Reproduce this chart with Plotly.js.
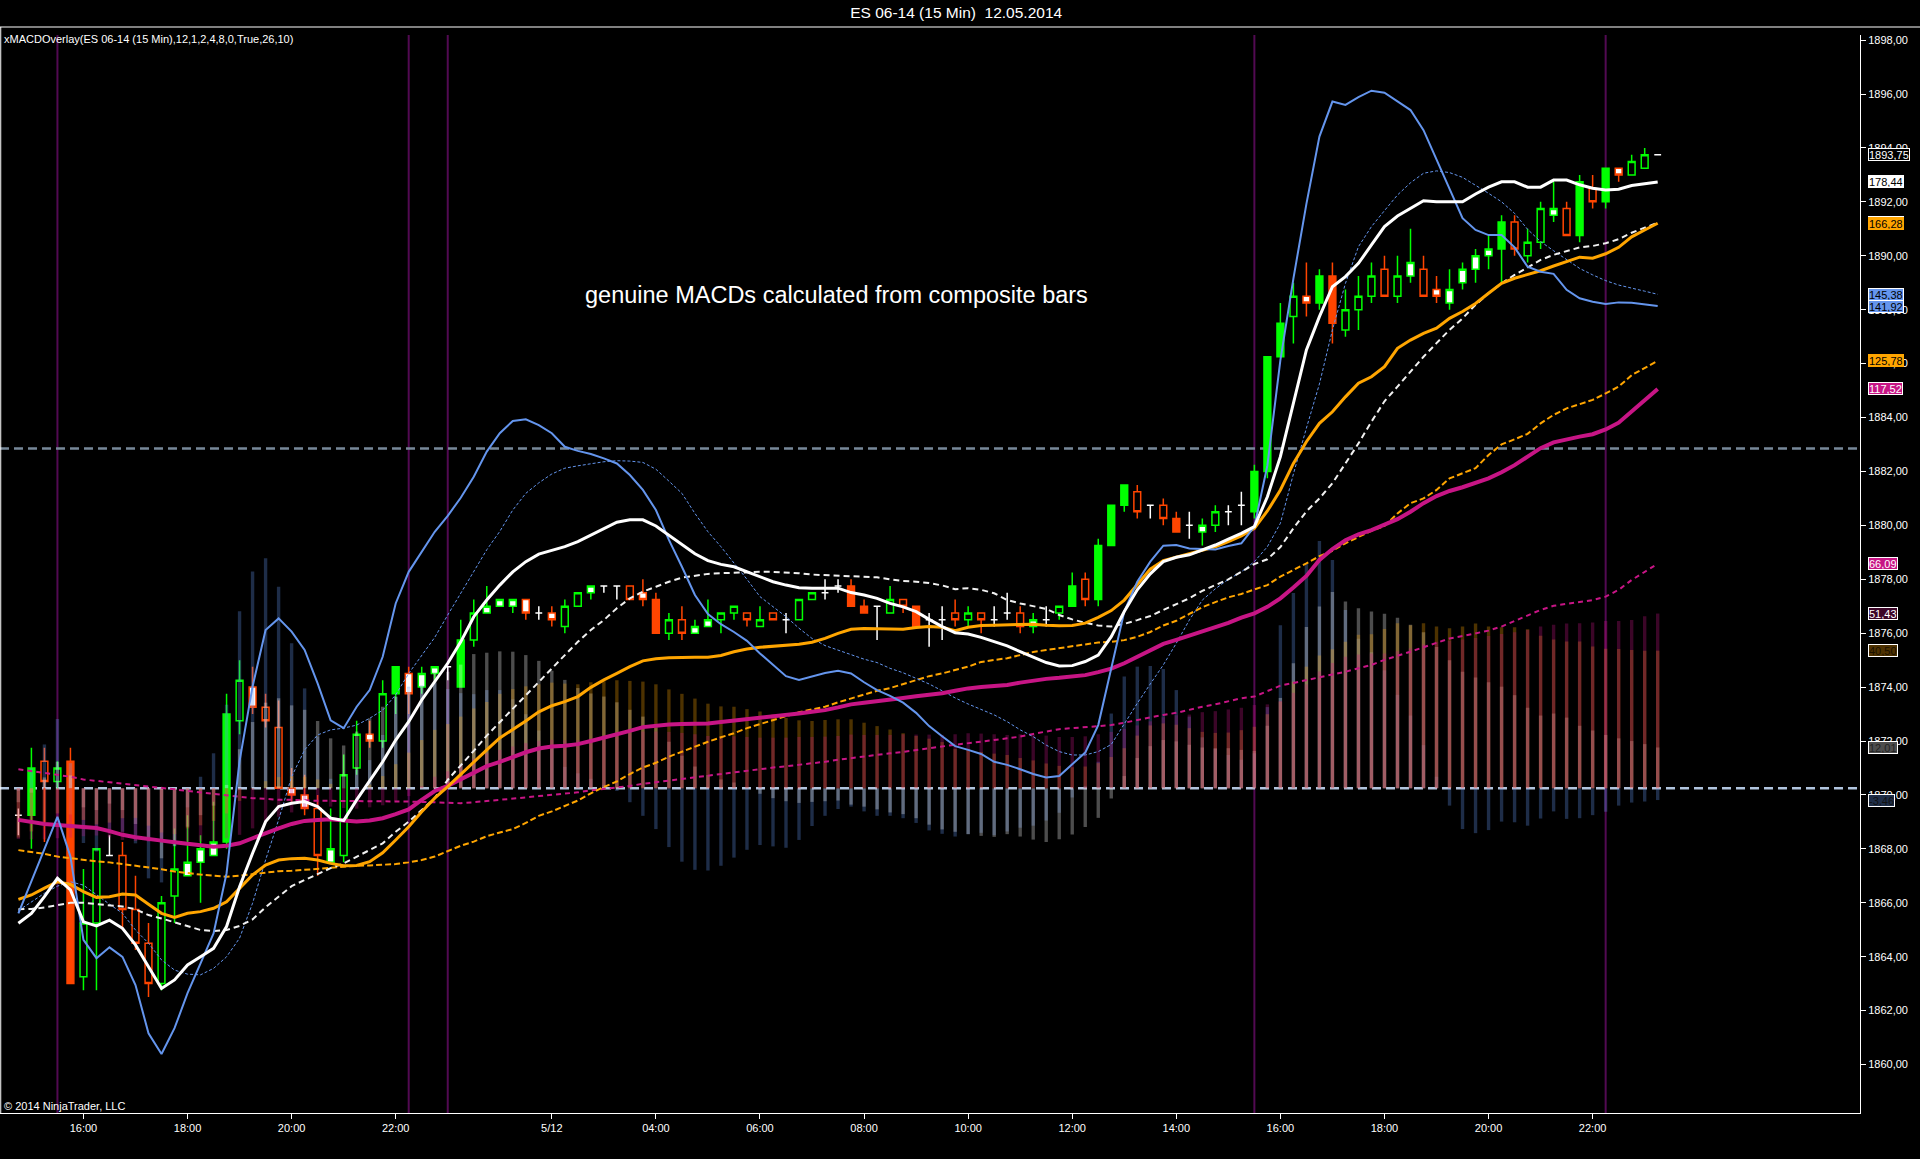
<!DOCTYPE html>
<html><head><meta charset="utf-8">
<script src="https://cdn.plot.ly/plotly-3.0.1.min.js"></script>
<style>html,body{margin:0;padding:0;background:#000;overflow:hidden}</style>
</head><body><div id="chart" style="width:1920px;height:1159px"></div>
<script>
// ---- time axis (bar index positions and labels) ----
const timeTickVals = [5, 13, 21, 29, 41, 49, 57, 65, 73, 81, 89, 97, 105, 113, 121];
const timeTickText = ['16:00','18:00','20:00','22:00','5/12','04:00','06:00','08:00','10:00','12:00','14:00','16:00','18:00','20:00','22:00'];
const priceTickVals = [1860,1862,1864,1866,1868,1870,1872,1874,1876,1878,1880,1882,1884,1886,1888,1890,1892,1894,1896,1898];
const priceTickText = ['1860,00','1862,00','1864,00','1866,00','1868,00','1870,00','1872,00','1874,00','1876,00','1878,00','1880,00','1882,00','1884,00','1886,00','1888,00','1890,00','1892,00','1894,00','1896,00','1898,00'];
const sessionMarks = [3, 30, 33, 95, 122];
const macdLevels = [0, 100];

// ---- price bars (ES 06-14, 15 min) ----
const openP = [
1869.25,1869.25,1871.25,1870.5,1871.25,1863.25,1865.25,1867.75,1867.75,1865.75,
1864.5,1863.0,1866.25,1867.0,1867.5,1867.75,1868.25,1872.75,1874.0,1873.25,
1872.5,1870.25,1870.0,1869.5,1867.5,1867.75,1871.0,1872.25,1872.0,1873.75,
1874.5,1874.0,1874.5,1874.75,1874.0,1875.75,1876.75,1877.0,1877.0,1877.25,
1876.75,1876.75,1876.25,1877.0,1877.5,1877.75,1877.75,1877.75,1877.5,1877.25,
1876.0,1876.5,1876.0,1876.25,1876.5,1876.75,1876.75,1876.25,1876.75,1876.5,
1876.5,1877.25,1877.5,1877.75,1877.75,1877.0,1877.0,1876.75,1877.25,1877.0,
1876.5,1876.5,1876.75,1876.5,1876.75,1876.5,1876.75,1876.75,1876.25,1876.5,
1876.75,1877.0,1878.0,1877.25,1879.25,1880.75,1881.25,1880.75,1880.75,1880.25,
1880.0,1879.75,1880.0,1880.5,1880.75,1880.5,1882.0,1886.25,1887.75,1888.5,
1888.25,1889.25,1887.25,1888.0,1888.5,1889.5,1888.5,1889.25,1889.5,1888.75,
1888.25,1889.0,1889.5,1890.0,1890.25,1891.25,1890.0,1890.5,1891.5,1891.75,
1890.75,1892.5,1892.0,1893.25,1893.0,1893.25,1893.75];
const highP = [
1869.5,1871.75,1871.75,1871.25,1871.75,1867.25,1868.0,1868.5,1868.25,1867.0,
1865.25,1866.25,1868.75,1869.25,1868.5,1869.75,1873.75,1875.0,1874.75,1873.75,
1873.5,1871.0,1870.75,1870.0,1869.5,1871.5,1872.75,1872.75,1874.25,1874.75,
1874.75,1874.75,1874.75,1874.75,1876.5,1877.25,1877.75,1877.25,1877.25,1877.25,
1877.0,1877.0,1877.25,1877.5,1877.75,1877.75,1877.75,1877.75,1878.0,1877.5,
1876.75,1877.0,1876.5,1877.25,1876.75,1877.0,1876.75,1877.0,1876.75,1876.75,
1877.25,1877.5,1878.0,1878.0,1878.0,1877.25,1877.0,1877.75,1877.25,1877.0,
1876.75,1877.0,1877.25,1877.0,1876.75,1877.0,1877.5,1877.0,1876.75,1877.0,
1877.0,1878.25,1878.25,1879.5,1880.75,1881.5,1881.5,1880.75,1881.0,1880.5,
1880.5,1880.25,1880.75,1880.75,1881.25,1882.25,1886.25,1888.25,1889.0,1889.75,
1889.5,1889.75,1888.75,1889.25,1889.75,1890.0,1890.0,1891.0,1890.0,1889.25,
1889.5,1889.75,1890.25,1890.75,1891.5,1891.5,1891.0,1892.0,1892.75,1892.0,
1893.0,1893.0,1893.25,1893.25,1893.75,1894.0,1893.75];
const lowP = [
1868.5,1868.0,1868.25,1870.25,1863.0,1862.75,1862.75,1867.75,1865.0,1864.25,
1862.5,1862.75,1865.25,1867.0,1866.0,1867.75,1868.0,1872.25,1873.0,1872.5,
1870.25,1869.75,1869.25,1867.0,1867.5,1867.5,1870.75,1871.75,1871.75,1873.0,
1873.0,1873.75,1874.25,1874.25,1874.0,1875.5,1876.75,1877.0,1876.75,1876.5,
1876.5,1876.25,1876.0,1877.0,1877.25,1877.5,1877.25,1877.25,1877.0,1876.0,
1875.75,1875.75,1876.0,1876.25,1876.0,1876.5,1876.25,1876.25,1876.5,1876.0,
1876.5,1877.25,1877.25,1877.5,1877.0,1876.75,1875.75,1876.75,1876.75,1876.25,
1875.5,1875.75,1876.25,1876.25,1876.0,1876.25,1876.5,1876.0,1876.0,1876.25,
1876.5,1877.0,1877.0,1877.0,1879.25,1880.5,1880.25,1880.25,1880.0,1879.75,
1879.5,1879.25,1879.75,1880.0,1880.0,1880.25,1881.75,1886.25,1886.75,1887.75,
1888.0,1886.75,1887.0,1887.25,1888.25,1888.5,1888.25,1889.0,1888.5,1888.25,
1888.0,1888.75,1889.0,1889.5,1889.0,1890.0,1889.75,1890.25,1891.25,1890.75,
1890.5,1891.75,1891.75,1892.75,1893.0,1893.25,1893.75];
const closeP = [
1869.25,1871.0,1870.5,1871.0,1863.0,1865.25,1868.0,1867.75,1865.75,1864.5,
1863.0,1866.0,1867.25,1867.5,1868.0,1868.25,1873.0,1874.25,1873.25,1872.75,
1870.25,1870.0,1869.5,1867.75,1868.0,1870.75,1872.25,1872.0,1873.75,1874.75,
1873.75,1874.5,1874.75,1874.75,1875.75,1876.75,1877.0,1877.25,1877.25,1876.75,
1876.75,1876.5,1877.0,1877.5,1877.75,1877.75,1877.75,1877.25,1877.25,1876.0,
1876.5,1876.0,1876.25,1876.5,1876.75,1877.0,1876.5,1876.5,1876.5,1876.5,
1877.25,1877.5,1877.5,1877.75,1877.0,1876.75,1877.0,1877.25,1877.0,1876.25,
1876.5,1876.5,1876.5,1876.75,1876.5,1876.5,1876.75,1876.25,1876.5,1876.5,
1877.0,1877.75,1877.25,1879.25,1880.75,1881.5,1880.5,1880.75,1880.25,1879.75,
1880.0,1880.0,1880.5,1880.5,1880.75,1882.0,1886.25,1887.5,1888.5,1888.25,
1889.25,1887.5,1888.0,1888.5,1889.25,1888.5,1889.25,1889.75,1888.5,1888.5,
1888.75,1889.5,1890.0,1890.25,1891.25,1890.25,1890.5,1891.75,1891.75,1890.75,
1892.75,1892.0,1893.25,1893.0,1893.5,1893.75,1893.75];
// bar painting type: G up solid, g up hollow, W up white, R down solid, r down hollow, w down white, d doji
const barType = [
'd','G','r','g','R','g','g','d','r','r',
'r','g','g','W','W','W','G','g','w','r',
'r','w','w','r','W','g','g','w','g','G',
'w','W','W','d','G','g','W','W','W','w',
'd','w','g','g','W','d','d','r','w','R',
'g','r','W','W','g','g','r','g','r','d',
'g','g','d','d','R','R','d','g','r','R',
'd','d','r','g','r','d','d','r','W','d',
'g','G','r','G','G','G','r','d','r','R',
'd','W','g','d','d','G','G','G','g','w',
'G','R','g','g','g','r','g','W','r','w',
'W','W','W','W','G','r','g','g','W','r',
'G','r','G','w','g','g','d'];

// ---- MACD overlay series (MACD units) ----
const macd1 = [ // white
-39.7,-36.8,-31.9,-26.5,-29.9,-39.3,-40.5,-38.8,-41.2,-46.1,
-52.5,-58.9,-56.4,-52.0,-49.6,-47.1,-40.7,-29.0,-19.1,-9.8,
-5.4,-4.4,-3.9,-5.4,-8.8,-9.5,-3.4,2.4,7.8,14.2,
19.6,26.0,31.4,36.8,43.1,50.5,55.4,59.8,63.7,66.7,
68.9,69.9,71.1,72.6,74.5,76.5,78.3,79.0,79.0,77.2,
74.5,71.6,69.0,67.0,65.9,65.2,63.7,62.1,60.8,59.8,
59.0,58.9,58.9,58.9,57.6,56.9,55.9,54.4,53.4,52.0,
49.7,47.6,45.8,45.4,44.4,43.1,41.9,40.2,38.6,37.0,
36.0,36.1,37.3,39.2,44.6,52.0,58.4,63.1,66.7,68.0,
68.7,70.1,71.6,73.3,75.0,77.0,85.8,97.6,113.3,129.0,
138.8,147.6,150.6,154.5,159.9,165.3,168.4,170.7,172.9,172.6,
172.6,172.6,174.9,176.9,178.5,178.5,176.9,176.9,179.0,179.0,
177.6,176.6,176.1,176.3,177.4,178.0,178.44];
const signal1 = [
-35.6,-35.5,-35.1,-34.3,-33.7,-33.7,-34.1,-34.3,-34.8,-35.6,
-37.3,-38.3,-39.5,-40.7,-41.7,-42.0,-41.7,-40.5,-38.6,-35.0,
-31.9,-28.8,-27.0,-25.2,-23.5,-22.1,-20.1,-18.2,-16.2,-12.8,
-9.8,-6.4,-2.9,2.5,6.7,11.0,15.5,19.5,23.5,27.5,
31.4,35.3,39.2,43.1,46.6,49.5,53.0,55.9,57.9,59.3,
60.8,62.0,62.6,63.1,63.3,63.5,63.6,63.7,63.7,63.6,
63.3,62.9,62.7,62.5,62.4,62.3,62.1,61.5,61.0,60.8,
60.4,59.7,58.6,58.9,58.4,57.4,55.4,54.4,53.7,52.8,
51.0,49.7,48.7,47.9,47.6,48.4,49.5,50.7,52.5,54.2,
55.9,58.1,59.8,61.5,63.7,66.0,67.4,71.0,76.5,81.5,
85.3,89.8,95.6,101.5,107.9,113.9,118.2,122.6,127.0,131.0,
134.9,138.3,142.3,145.7,148.6,151.1,153.2,155.5,157.0,158.2,
159.2,159.6,160.4,161.6,163.5,165.0,166.43];
const macd2 = [ // blue
-36.8,-27.5,-18.0,-8.4,-20.1,-44.6,-50.0,-46.8,-49.6,-57.9,
-72.1,-78.2,-70.6,-60.3,-51.5,-42.7,-25.0,8.0,30.0,46.6,
50.0,46.1,40.7,30.9,20.0,17.7,24.0,28.9,38.7,54.4,
63.7,69.6,75.5,80.2,85.5,91.7,99.1,104.5,108.1,108.6,
106.9,104.5,100.5,99.3,98.4,97.1,95.6,92.2,87.8,81.9,
73.1,65.2,56.9,51.3,48.3,46.0,43.4,39.7,36.3,33.0,
31.9,33.0,33.9,34.6,33.8,31.2,28.9,27.2,25.2,22.2,
18.3,15.3,12.4,11.3,10.1,7.8,6.9,5.6,4.2,3.2,
3.6,7.1,10.5,18.6,34.9,52.0,60.8,66.7,71.4,71.6,
70.6,70.4,70.3,71.3,72.1,77.0,95.0,126.0,150.0,172.0,
191.8,202.1,201.1,203.4,205.3,204.7,202.1,199.6,193.7,185.1,
176.1,167.8,164.3,162.8,162.8,159.2,153.5,152.0,151.4,146.7,
144.2,143.2,142.5,143.0,142.9,142.4,141.92];
const signal2 = [
-36.0,-33.4,-30.9,-28.8,-27.5,-28.5,-31.4,-34.1,-36.8,-41.7,
-45.6,-50.5,-53.5,-54.7,-54.9,-53.0,-49.6,-44.1,-33.8,-21.1,
-9.3,3.4,11.3,15.7,17.2,17.7,18.6,20.6,23.0,27.5,
33.8,39.2,44.4,51.0,57.5,64.0,70.2,75.6,81.9,86.8,
89.9,92.5,94.2,94.9,95.6,96.1,96.4,96.3,95.9,93.9,
90.4,86.8,80.9,75.5,71.1,66.4,61.5,56.4,53.4,50.5,
47.1,44.1,42.0,40.7,39.2,38.0,37.0,35.3,34.0,32.4,
30.7,28.7,26.6,24.8,23.2,21.6,19.6,17.2,15.2,12.7,
10.8,9.8,9.8,10.8,12.9,19.1,25.0,30.7,36.3,42.7,
49.5,55.4,58.7,61.5,63.7,66.7,71.1,78.0,92.5,106.0,
119.0,134.9,148.6,159.4,165.3,170.0,174.6,178.2,181.0,181.7,
181.2,179.8,177.5,175.1,172.6,169.2,164.5,160.9,158.2,155.7,
153.0,151.1,149.4,148.1,147.1,146.3,145.38];
const macd3 = [ // orange
-32.7,-31.4,-29.4,-27.5,-28.3,-30.4,-32.1,-31.9,-31.1,-31.4,
-34.1,-36.8,-38.0,-36.8,-36.3,-35.3,-33.4,-29.4,-25.5,-22.6,
-21.1,-20.7,-20.6,-21.1,-22.1,-22.8,-22.7,-21.6,-19.0,-15.2,
-11.3,-6.9,-2.9,0.5,4.2,7.8,11.3,14.8,17.2,19.8,
22.5,24.3,25.5,27.0,29.7,31.9,33.8,35.8,37.5,38.1,
38.4,38.6,38.6,38.6,39.1,40.2,41.0,41.5,41.8,42.0,
42.4,43.0,44.1,45.6,46.8,47.0,47.0,46.8,46.8,47.3,
47.6,47.4,46.4,47.4,47.9,48.0,48.1,48.1,48.3,48.0,
47.8,47.9,48.6,50.3,52.3,55.4,60.1,64.5,67.0,68.0,
69.0,69.9,71.1,72.6,74.3,76.5,81.6,87.8,95.6,102.0,
107.4,110.8,115.2,119.2,121.1,124.1,129.5,131.9,133.9,135.4,
138.3,140.3,142.7,145.7,148.6,150.1,151.1,152.3,153.7,155.0,
156.3,156.0,157.3,159.2,162.3,164.3,166.28];
const signal3 = [
-18.2,-18.7,-19.3,-20.1,-20.6,-21.1,-21.5,-21.8,-22.3,-22.7,
-23.1,-23.8,-24.5,-25.0,-25.4,-25.7,-26.0,-25.7,-25.2,-24.7,
-24.4,-24.3,-24.0,-23.7,-23.4,-22.9,-22.8,-22.7,-22.6,-22.3,
-21.8,-21.1,-20.1,-18.4,-16.9,-15.7,-14.1,-13.0,-12.0,-10.2,
-8.1,-6.8,-5.3,-3.6,-1.5,0.4,2.0,4.2,6.1,7.5,
9.3,10.8,12.2,13.7,15.0,16.2,17.7,18.9,20.1,21.3,
22.4,23.2,24.0,25.3,26.5,27.7,28.7,29.5,30.6,31.9,
33.0,33.8,34.8,35.8,37.2,37.8,38.3,39.2,40.1,40.7,
41.2,41.7,42.2,42.9,43.1,43.6,44.6,46.0,47.9,49.3,
51.3,53.3,54.8,56.2,57.2,58.4,59.8,62.3,64.2,66.2,
68.3,69.9,72.1,74.0,75.8,77.2,80.9,83.9,85.3,87.8,
91.2,92.7,94.2,98.1,101.2,102.7,104.3,107.4,109.9,111.8,
113.1,114.3,116.2,118.2,121.6,123.8,125.78];
const macd4 = [ // magenta
-9.3,-9.9,-10.5,-10.8,-11.1,-11.5,-11.7,-12.6,-13.7,-14.4,
-15.0,-15.4,-15.9,-16.4,-16.9,-17.2,-16.9,-16.2,-14.7,-13.1,
-11.8,-10.5,-9.6,-9.3,-9.1,-9.5,-9.8,-9.5,-8.8,-7.6,
-6.2,-3.4,-0.8,0.7,2.6,4.6,6.5,7.8,9.3,10.6,
11.7,12.3,12.5,13.0,13.9,14.8,15.8,16.9,18.0,18.5,
18.8,18.9,19.0,19.1,19.5,19.9,20.3,20.6,21.0,21.4,
22.0,22.5,23.0,23.8,24.7,25.2,25.6,26.0,26.6,27.1,
27.5,28.0,28.7,29.4,29.8,30.1,30.4,31.1,31.7,32.2,
32.5,32.8,33.3,34.2,35.2,36.8,38.6,40.5,42.5,43.7,
44.9,46.4,47.4,48.7,50.2,51.5,53.4,55.9,59.1,62.5,
67.2,70.4,73.0,74.7,76.0,77.5,79.2,81.4,83.9,86.0,
87.5,88.6,89.8,91.2,93.0,95.1,97.6,100.1,101.8,102.7,
103.5,104.2,105.6,107.6,110.8,114.3,117.52];
const signal4 = [
5.6,5.1,4.5,3.9,3.4,2.6,2.2,1.8,1.5,1.1,
0.7,0.2,-0.3,-0.8,-1.2,-1.8,-2.2,-2.5,-2.9,-3.1,
-3.4,-3.4,-3.6,-3.7,-3.7,-3.7,-3.8,-3.9,-3.8,-3.8,
-3.9,-4.0,-4.2,-4.3,-4.4,-4.1,-3.8,-3.5,-3.0,-2.7,
-2.3,-2.0,-1.6,-1.2,-0.6,-0.2,0.2,0.7,1.3,1.8,
2.2,2.6,3.1,3.7,4.2,4.6,5.2,5.7,6.1,6.5,
6.9,7.4,7.8,8.4,8.9,9.5,9.9,10.3,10.7,11.3,
11.7,12.3,12.8,13.2,13.7,14.2,14.7,15.2,16.0,16.7,
17.4,17.7,18.0,18.3,18.6,19.3,20.1,20.8,21.6,22.2,
23.2,24.0,24.7,25.5,26.5,27.0,28.7,30.2,31.0,31.9,
32.8,33.5,34.3,35.3,36.3,37.8,38.9,40.2,41.5,42.9,
44.1,44.8,45.6,46.4,47.6,49.2,51.0,52.5,53.7,54.2,
54.9,55.4,56.4,58.4,61.3,63.7,66.09];

// ---- build figure ----
const N = closeP.length;
const xs = Array.from({length: N}, (_, i) => i);
const hist = (m, s) => m.map((v, i) => v - s[i]); // MACD histogram = MACD - signal
const hist1 = hist(macd1, signal1), hist2 = hist(macd2, signal2), hist3 = hist(macd3, signal3), hist4 = hist(macd4, signal4);

const GREEN = '#00FF00', RED = '#FF4500';
const candleLook = {
  G: [GREEN, GREEN], g: [GREEN, '#000000'], W: [GREEN, '#FFFFFF'],
  R: [RED, RED], r: [RED, '#000000'], w: [RED, '#FFFFFF'], d: ['#FFFFFF', '#FFFFFF']
};
const traces = [];
Object.keys(candleLook).forEach(k => {
  const idx = xs.filter(i => barType[i] === k);
  if (!idx.length) return;
  const [lc, fc] = candleLook[k];
  const side = {line: {color: lc, width: 1.5}, fillcolor: fc};
  traces.push({
    type: 'candlestick', xaxis: 'x', yaxis: 'y',
    x: idx, open: idx.map(i => openP[i]), high: idx.map(i => highP[i]),
    low: idx.map(i => lowP[i]), close: idx.map(i => closeP[i]),
    increasing: side, decreasing: side, whiskerwidth: 0,
    hoverinfo: 'skip', showlegend: false
  });
});
const histDefs = [
  [hist2, 'rgba(100,149,237,0.3)'],
  [hist1, 'rgba(255,255,255,0.3)'],
  [hist3, 'rgba(255,165,0,0.3)'],
  [hist4, 'rgba(199,21,133,0.3)']
];
histDefs.forEach(([h, c]) => traces.push({
  type: 'bar', x: xs, y: h, yaxis: 'y2', width: 0.26,
  marker: {color: c, line: {width: 0}}, hoverinfo: 'skip', showlegend: false
}));
const lineDefs = [
  [signal4, '#C71585', 2, '5px,4px'],
  [signal3, '#FFA500', 2, '6px,3px'],
  [signal2, '#6495ED', 1, '3px,2px'],
  [signal1, '#F0F0F0', 2, '6px,4px'],
  [macd4, '#C71585', 4, 'solid'],
  [macd3, '#FFA500', 3, 'solid'],
  [macd2, '#6495ED', 2, 'solid'],
  [macd1, '#FFFFFF', 3, 'solid']
];
lineDefs.forEach(([y, c, w, d]) => traces.push({
  type: 'scatter', mode: 'lines', x: xs, y: y, yaxis: 'y2',
  line: {color: c, width: w, dash: d}, hoverinfo: 'skip', showlegend: false
}));

const shapes = [];
sessionMarks.forEach(i => shapes.push({type: 'line', xref: 'x', yref: 'paper', x0: i, x1: i, y0: 0, y1: 1,
  line: {color: '#520A52', width: 2}, layer: 'below'}));
shapes.push({type: 'line', xref: 'paper', yref: 'y2', x0: 0, x1: 1, y0: macdLevels[1], y1: macdLevels[1],
  line: {color: '#778899', width: 2.5, dash: '9px,5px'}, layer: 'below'});
shapes.push({type: 'line', xref: 'paper', yref: 'y2', x0: 0, x1: 1, y0: macdLevels[0], y1: macdLevels[0],
  line: {color: '#B0C4DE', width: 2.5, dash: '9px,5px'}, layer: 'below'});
const topY = (1113 - 27) / 1078;
shapes.push({type: 'line', xref: 'paper', yref: 'paper', x0: 0, x1: 1920 / 1860, y0: topY, y1: topY,
  line: {color: '#FFFFFF', width: 1}});
shapes.push({type: 'line', xref: 'paper', yref: 'paper', x0: 0.0004, x1: 0.0004, y0: 0, y1: topY,
  line: {color: '#FFFFFF', width: 1}});

// ---- value flags on the right edge ----
const fmt = v => v.toFixed(2).replace('.', ',');
const last = a => a[a.length - 1];
const flagDefs = [
  [last(hist2), 'y2', '#1E2D47', '#111111', '#FFFFFF'],
  [last(hist1), 'y2', '#4D4D4D', '#222222', '#FFFFFF'],
  [last(hist3), 'y2', '#4D3100', '#1A1000', '#FFFFFF'],
  [last(hist4), 'y2', '#3C0628', '#FFFFFF', '#FFFFFF'],
  [last(signal4), 'y2', '#C71585', '#FFFFFF', '#FFFFFF'],
  [last(macd4), 'y2', '#C71585', '#FFFFFF', '#FFFFFF'],
  [last(signal3), 'y2', '#FFA500', '#000000', '#FFA500'],
  [last(macd2), 'y2', '#6495ED', '#000000', '#FFFFFF'],
  [last(signal2), 'y2', '#6495ED', '#000000', '#FFFFFF'],
  [last(signal1), 'y2', '#FFFFFF', '#000000', '#FFFFFF'],
  [last(macd3), 'y2', '#FFA500', '#000000', '#FFA500'],
  [last(macd1), 'y2', '#FFFFFF', '#000000', '#FFFFFF'],
  [last(closeP), 'y', '#000000', '#FFFFFF', '#FFFFFF']
];
const flagX = 142.0; // pointer of each flag, just right of the plot edge
flagDefs.forEach(([v, yref, bg, fg, border]) => traces.push({
  type: 'scatter', mode: 'markers', x: [flagX], y: [v], yaxis: yref, cliponaxis: false,
  marker: {symbol: 'triangle-left', size: 10, color: bg, line: {color: border, width: 1}},
  hoverinfo: 'skip', showlegend: false
}));
const annotations = flagDefs.map(([v, yref, bg, fg, border]) => ({
  xref: 'paper', x: 1, xanchor: 'left', xshift: 8, yref: yref, y: v, yanchor: 'middle',
  text: fmt(v), showarrow: false, bgcolor: bg, bordercolor: border, borderwidth: 1, borderpad: 0,
  height: 11, align: 'center', font: {size: 11, color: fg}
}));
annotations.push(
  {xref: 'paper', yref: 'paper', x: 0.001, y: (1113 - 39) / 1078, xanchor: 'left', yanchor: 'middle',
   text: 'xMACDOverlay(ES 06-14 (15 Min),12,1,2,4,8,0,True,26,10)', showarrow: false,
   font: {size: 11, color: '#FFFFFF'}},
  {xref: 'paper', yref: 'paper', x: 583 / 1860, y: (1113 - 295) / 1078, xanchor: 'left', yanchor: 'middle',
   text: 'genuine MACDs calculated from composite bars', showarrow: false,
   font: {size: 23.5, color: '#FFFFFF'}},
  {xref: 'paper', yref: 'paper', x: 0.001, y: (1113 - 1106) / 1078, xanchor: 'left', yanchor: 'middle',
   text: '© 2014 NinjaTrader, LLC', showarrow: false, font: {size: 11, color: '#FFFFFF'}}
);

const layout = {
  width: 1920, height: 1159, paper_bgcolor: '#000000', plot_bgcolor: '#000000',
  margin: {l: 0, r: 60, t: 35, b: 46, pad: 0},
  showlegend: false, hovermode: false, barmode: 'overlay', boxgap: 0.25, boxgroupgap: 0.3,
  font: {family: 'Liberation Sans, Arial, sans-serif', color: '#FFFFFF', size: 11},
  title: {text: 'ES 06-14 (15 Min)\u00a0 12.05.2014', font: {size: 15.5, color: '#FFFFFF'},
          xref: 'container', x: 0.498, xanchor: 'center', yref: 'container', y: 1 - 13 / 1159, yanchor: 'middle'},
  xaxis: {range: [-1.414, 141.55], tickvals: timeTickVals, ticktext: timeTickText, tickangle: 0,
          showgrid: false, zeroline: false, showline: true, linecolor: '#FFFFFF', linewidth: 1,
          ticks: 'outside', ticklen: 5, tickcolor: '#FFFFFF', tickfont: {size: 11, color: '#FFFFFF'},
          rangeslider: {visible: false}, fixedrange: true},
  yaxis: {range: [1858.20, 1898.19], side: 'right', tickvals: priceTickVals, ticktext: priceTickText,
          showgrid: false, zeroline: false, showline: true, linecolor: '#FFFFFF', linewidth: 1,
          ticks: 'outside', ticklen: 5, tickcolor: '#FFFFFF', tickfont: {size: 11, color: '#FFFFFF'}, fixedrange: true},
  yaxis2: {range: [-95.56, 221.69], overlaying: 'y', side: 'right', visible: false, fixedrange: true},
  shapes: shapes, annotations: annotations
};
Plotly.newPlot('chart', traces, layout, {staticPlot: true, displayModeBar: false});
</script>
</body></html>
